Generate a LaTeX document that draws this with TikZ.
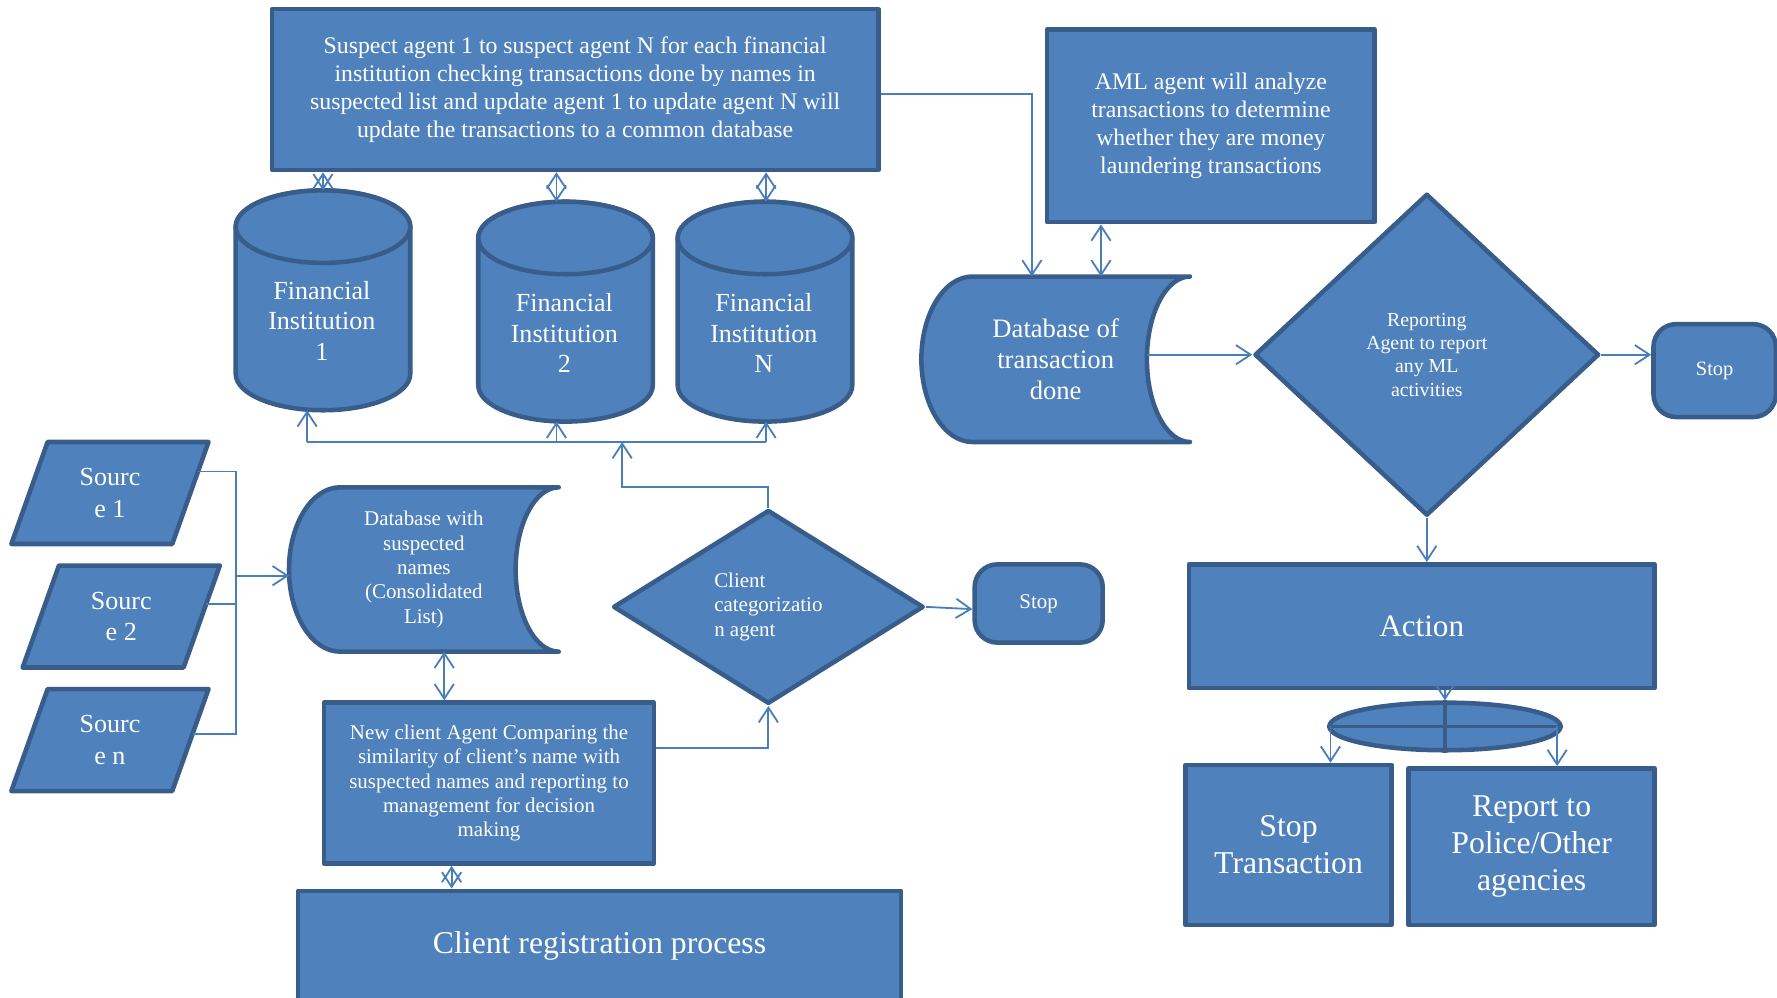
\documentclass[tikz,border=0pt]{standalone}
\usepackage{fontspec}
\setmainfont{Liberation Serif}
\usetikzlibrary{arrows.meta,shapes.geometric,backgrounds}
\definecolor{fil}{HTML}{4F81BD}
\definecolor{bdr}{HTML}{385D8A}
\definecolor{lnk}{HTML}{4A7EBB}
\newcommand\fsz[2]{\fontsize{#1}{#2}\selectfont}

\begin{document}
\begin{tikzpicture}[x=1pt,y=-1pt,
  shp/.style={draw=bdr, fill=fil, line width=4pt, line join=round, line cap=round},
  boxn/.style={shp, rectangle, inner sep=2pt, text=white, align=center},
  ghost/.style={rectangle, inner sep=0pt, outer sep=0pt, text=white, align=center},
  lbl/.style={text=white, align=center, inner sep=0pt},
  conn/.style={draw=lnk, line width=1.6pt},
  arr/.style={conn, -{Straight Barb[length=13pt,width=17pt]}},
  darr/.style={conn, {Straight Barb[length=13pt,width=17pt]}-{Straight Barb[length=13pt,width=17pt]}},
]
\useasboundingbox (0,0) rectangle (1568,880);

% ---------- agents and boxes ----------
\node[boxn, minimum width=535pt, minimum height=142pt, font=\fsz{21}{24.5}] (top) at (507.5,79)
  {Suspect agent 1 to suspect agent N for each financial\\institution checking transactions done by names in\\suspected list and update agent 1 to update agent N will\\update the transactions to a common database};

\node[boxn, minimum width=289pt, minimum height=170pt, font=\fsz{21}{24.5}] (aml) at (1068.5,111)
  {AML agent will analyze\\transactions to determine\\whether they are money\\laundering transactions};

\node[shp, diamond, minimum width=304pt, minimum height=284pt, inner sep=0pt, text=white, align=center,
  font=\fsz{17.5}{20.7}] (rep) at (1259,313) {Reporting\\Agent to report\\any ML\\activities};

\node[boxn, rounded corners=20pt, minimum width=108pt, minimum height=82pt, font=\fsz{18}{21}] (stop2) at (1513,327) {Stop};

\node[boxn, minimum width=411pt, minimum height=109pt, font=\fsz{27.5}{32}] (action) at (1254.5,552.5) {Action};

\node[shp, ellipse, minimum width=204pt, minimum height=42pt, inner sep=0pt] (junc) at (1275,641) {};
\draw[draw=bdr, line width=3pt] (junc.west) -- (junc.east) (junc.north) -- (junc.south);

\node[boxn, minimum width=182pt, minimum height=141pt, font=\fsz{28}{33}] (st) at (1137,745.5) {Stop\\Transaction};
\node[boxn, minimum width=217pt, minimum height=138pt, font=\fsz{28}{32.5}] (rp) at (1351.5,747) {Report to\\Police/Other\\agencies};

\node[boxn, minimum width=291pt, minimum height=142pt, font=\fsz{18.5}{21.5}] (nc) at (431.5,691)
  {New client Agent Comparing the\\similarity of client's name with\\suspected names and reporting to\\management for decision\\making};

\node[shp, diamond, minimum width=274pt, minimum height=171pt, inner sep=0pt, text=white, align=left,
  font=\fsz{18.5}{21.5}] (cc) at (678,535.5) {Client\\categorizatio\\n agent};

\node[boxn, rounded corners=20pt, minimum width=113pt, minimum height=69pt, font=\fsz{18.5}{21}] (stop1) at (916.5,532.5) {Stop};

\node[boxn, minimum width=532pt, minimum height=98pt, font=\fsz{28}{33}] (cr) at (529,835) {Client registration process};

% ---------- data stores, institutions and sources ----------
\node[ghost, minimum width=237pt, minimum height=146pt, font=\fsz{23.5}{27.5}] (db2) at (931.5,317)
  {Database of\\transaction\\done};
\node[ghost, minimum width=238pt, minimum height=145pt, font=\fsz{18.5}{21.5}] (db1) at (374,502.5)
  {Database with\\suspected\\names\\(Consolidated\\List)};

\node[ghost, minimum width=154pt, minimum height=194pt] (fi1) at (285,265) {};
\node[ghost, minimum width=154pt, minimum height=194pt] (fi2) at (499,275) {};
\node[ghost, minimum width=154pt, minimum height=194pt] (fin) at (675,275) {};

\node[ghost, minimum width=174pt, minimum height=90pt, font=\fsz{23}{28}] (s1) at (97,435) {Sourc\\e 1};
\node[ghost, minimum width=174pt, minimum height=90pt, font=\fsz{23}{28}] (s2) at (107,544) {Sourc\\e 2};
\node[ghost, minimum width=174pt, minimum height=90pt, font=\fsz{23}{28}] (sn) at (97,653) {Sourc\\e n};

\begin{scope}[on background layer]
  % stored-data outlines: convex left side, concave right side
  \draw[shp] ([xshift=45pt]db2.north west) -- (db2.north east)
    arc[start angle=270, end angle=90, x radius=38, y radius=73]
    -- ([xshift=45pt]db2.south west)
    arc[start angle=90, end angle=270, x radius=45, y radius=73] -- cycle;
  \draw[shp] ([xshift=45pt]db1.north west) -- (db1.north east)
    arc[start angle=270, end angle=90, x radius=38, y radius=72.5]
    -- ([xshift=45pt]db1.south west)
    arc[start angle=90, end angle=270, x radius=45, y radius=72.5] -- cycle;
  % cylinders
  \foreach \c in {fi1,fi2,fin}{
    \draw[shp] ([yshift=-32pt]\c.north west) -- ([yshift=32pt]\c.south west)
      arc[start angle=180, end angle=0, x radius=77, y radius=32]
      -- ([yshift=-32pt]\c.north east)
      arc[start angle=0, end angle=-180, x radius=77, y radius=32] -- cycle;
    \draw[shp] ([yshift=-32pt]\c.north) ellipse[x radius=77, y radius=32];
  }
  % parallelograms
  \foreach \c in {s1,s2,sn}{
    \draw[shp] (\c.south west) -- ([xshift=-32pt]\c.south east) -- (\c.north east)
      -- ([xshift=32pt]\c.north west) -- cycle;
  }
\end{scope}

\node[lbl, font=\fsz{23}{27}] (fi1t) at (284,283) {Financial\\Institution\\1};
\node[lbl, font=\fsz{23}{27}] (fi2t) at (498,294) {Financial\\Institution\\2};
\node[lbl, font=\fsz{23}{27}] (fint) at (674,294) {Financial\\Institution\\N};

% ---------- connectors ----------
\draw[darr] (fi1.north |- top.south) -- (fi1.north);
\draw[darr] ([xshift=-8pt]fi2.north |- top.south) -- ([xshift=-8pt]fi2.north);
\draw[darr] ([xshift=1pt]fin.north |- top.south) -- ([xshift=1pt]fin.north);

\coordinate (busj) at (549,390);
\draw[conn] ([xshift=-14pt]fi1.south |- busj) -- ([xshift=1pt]fin.south |- busj);
\draw[arr] ([xshift=-14pt]fi1.south |- busj) -- ([xshift=-14pt]fi1.south);
\draw[arr] ([xshift=-8pt]fi2.south |- busj) -- ([xshift=-8pt]fi2.south);
\draw[arr] ([xshift=1pt]fin.south |- busj) -- ([xshift=1pt]fin.south);
\draw[arr] (cc.north) |- (549,430) -- (busj);

\draw[arr] ([yshift=-4pt]top.east) -| ([xshift=-21pt]db2.north);
\draw[darr] ([xshift=40pt]db2.north |- aml.south) -- ([xshift=40pt]db2.north);
\draw[arr] ([xshift=-38pt]db2.east |- rep.west) -- (rep.west);
\draw[arr] (rep.east) -- (rep.east -| stop2.west);
\draw[arr] (rep.south) -- (rep.south |- action.north);
\draw[arr] (junc.north |- action.south) -- (junc.north);
\draw[arr] ([xshift=3pt]junc.west) -- ([xshift=3pt]junc.west |- st.north);
\draw[arr] ([xshift=-5pt]junc.east) -- ([xshift=-5pt]junc.east |- rp.north);

\coordinate (sbus) at (208,508);
\draw[conn] ([xshift=-9pt,yshift=19pt]s1.east) -| (sbus);
\draw[conn] ([xshift=-12pt,yshift=11pt]s2.east) -| (sbus);
\draw[conn] ([xshift=-14pt,yshift=5pt]sn.east) -| (sbus);
\draw[arr] (sbus) -- (sbus -| db1.west);

\draw[darr] ([xshift=18pt]db1.south) -- ([xshift=18pt]db1.south |- nc.north);
\draw[arr] ([yshift=31pt]nc.east) -| (cc.south);
\draw[arr] (cc.east) -- ([yshift=-5pt]stop1.west);
\draw[darr] ([xshift=-33pt]nc.south) -- ([xshift=-33pt]nc.south |- cr.north);
\end{tikzpicture}
\end{document}
